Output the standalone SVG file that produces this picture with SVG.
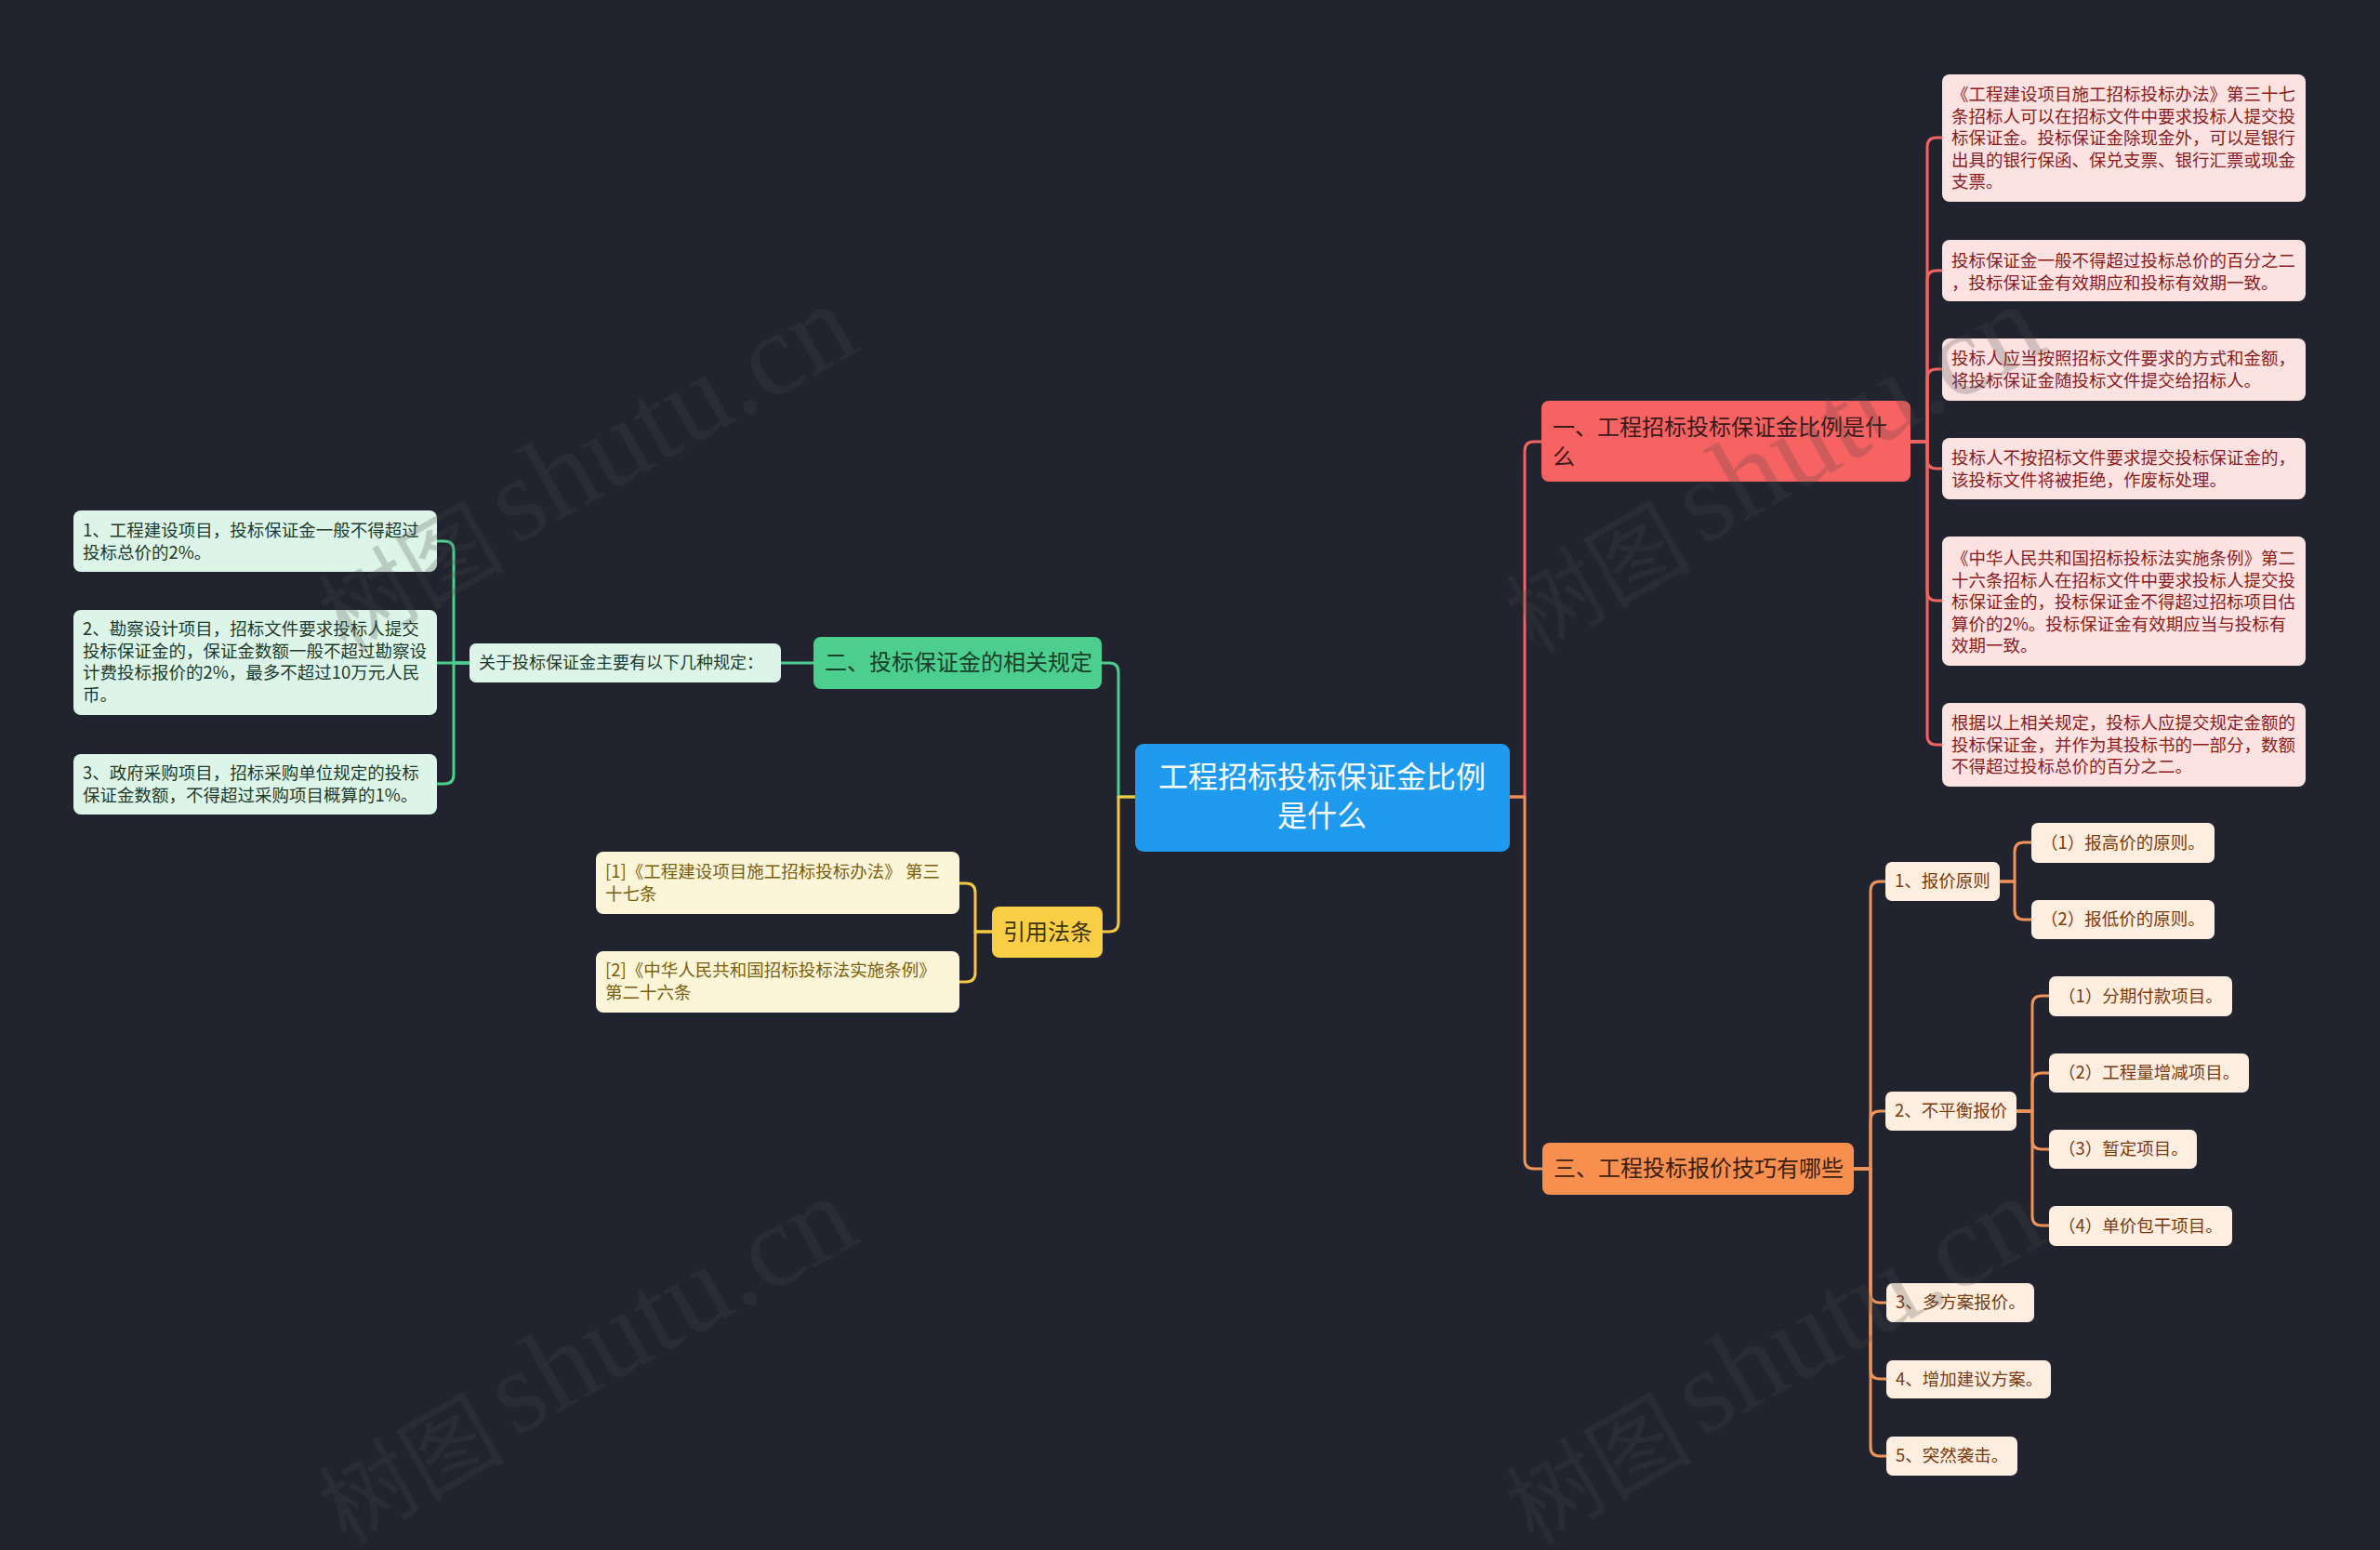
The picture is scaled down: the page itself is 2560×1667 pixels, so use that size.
<svg xmlns="http://www.w3.org/2000/svg" width="2560" height="1667" viewBox="0 0 2560 1667">
<style>
text{font-family:"Noto Sans CJK SC","Noto Sans",sans-serif;}
.c{fill:none;stroke-width:3;stroke-linecap:round;stroke-linejoin:round}
.red{stroke:#f26462}.grn{stroke:#4ccf8e}.yel{stroke:#f5c842}.org{stroke:#f0935a}
.sm{font-size:18.5px}
.md{font-size:24px}
.pk rect{fill:#fde2e2}.pk text{fill:#8a1c1c}
.gl rect{fill:#ddf5e8}.gl text{fill:#1d3b2c}
.yl rect{fill:#fdf5d8}.yl text{fill:#7a5f0f}
.ol rect{fill:#feeedf}.ol text{fill:#7a3a10}
.wm{fill:#4a4a4a;opacity:0.24}
</style>
<rect width="2560" height="1667" fill="#21242f"/>
<g id="connectors">
<path class="c red" d="M1624 857H1640V485Q1640 475 1650 475H1658"/>
<path class="c org" d="M1624 857H1640V1247Q1640 1257 1650 1257H1659"/>
<path class="c grn" d="M1221 857H1203V723Q1203 713 1193 713H1185"/>
<path class="c yel" d="M1221 857H1203V992Q1203 1002 1193 1002H1186"/>
<path class="c red" d="M2055 475H2073V158Q2073 148 2083 148H2089"/>
<path class="c red" d="M2055 475H2073V301Q2073 291 2083 291H2089"/>
<path class="c red" d="M2055 475H2073V407Q2073 397 2083 397H2089"/>
<path class="c red" d="M2055 475H2073V494Q2073 504 2083 504H2089"/>
<path class="c red" d="M2055 475H2073V636Q2073 646 2083 646H2089"/>
<path class="c red" d="M2055 475H2073V791Q2073 801 2083 801H2089"/>
<path class="c grn" d="M875 713H840"/>
<path class="c grn" d="M505 713H488V592Q488 582 478 582H470"/>
<path class="c grn" d="M505 713H470"/>
<path class="c grn" d="M505 713H488V833Q488 843 478 843H470"/>
<path class="c yel" d="M1067 1002H1049V960Q1049 950 1039 950H1032"/>
<path class="c yel" d="M1067 1002H1049V1046Q1049 1056 1039 1056H1032"/>
<path class="c org" d="M1994 1257H2012V958Q2012 948 2022 948H2028"/>
<path class="c org" d="M1994 1257H2012V1205Q2012 1195 2022 1195H2028"/>
<path class="c org" d="M1994 1257H2012V1391Q2012 1401 2022 1401H2029"/>
<path class="c org" d="M1994 1257H2012V1473Q2012 1483 2022 1483H2029"/>
<path class="c org" d="M1994 1257H2012V1556Q2012 1566 2022 1566H2029"/>
<path class="c org" d="M2151 948H2167V916Q2167 906 2177 906H2185"/>
<path class="c org" d="M2151 948H2167V979Q2167 989 2177 989H2185"/>
<path class="c org" d="M2169 1195H2186V1081Q2186 1071 2196 1071H2204"/>
<path class="c org" d="M2169 1195H2186V1164Q2186 1154 2196 1154H2204"/>
<path class="c org" d="M2169 1195H2186V1226Q2186 1236 2196 1236H2204"/>
<path class="c org" d="M2169 1195H2186V1308Q2186 1318 2196 1318H2204"/>
</g>
<g id="root">
<rect x="1221" y="800" width="403" height="116" rx="9" fill="#1e9bef"/>
<text x="1422" y="847" font-size="32" fill="#ffffff" text-anchor="middle">工程招标投标保证金比例</text>
<text x="1422" y="889" font-size="32" fill="#ffffff" text-anchor="middle">是什么</text>
</g>
<g id="n1">
<rect x="1658" y="431" width="397" height="87" rx="8" fill="#f76262"/>
<text class="md" x="1670" y="468" fill="#3a1a1a">一、工程招标投标保证金比例是什</text>
<text class="md" x="1670" y="500" fill="#3a1a1a">么</text>
</g>
<g id="n1a" class="pk">
<rect x="2089" y="80" width="391" height="137" rx="8"/>
<text class="sm" x="2099" y="108">《工程建设项目施工招标投标办法》第三十七</text>
<text class="sm" x="2099" y="131.5">条招标人可以在招标文件中要求投标人提交投</text>
<text class="sm" x="2099" y="155">标保证金。投标保证金除现金外，可以是银行</text>
<text class="sm" x="2099" y="178.5">出具的银行保函、保兑支票、银行汇票或现金</text>
<text class="sm" x="2099" y="202">支票。</text>
</g>
<g id="n1b" class="pk">
<rect x="2089" y="258" width="391" height="66" rx="8"/>
<text class="sm" x="2099" y="287">投标保证金一般不得超过投标总价的百分之二</text>
<text class="sm" x="2099" y="310.5">，投标保证金有效期应和投标有效期一致。</text>
</g>
<g id="n1c" class="pk">
<rect x="2089" y="364" width="391" height="67" rx="8"/>
<text class="sm" x="2099" y="392">投标人应当按照招标文件要求的方式和金额，</text>
<text class="sm" x="2099" y="415.5">将投标保证金随投标文件提交给招标人。</text>
</g>
<g id="n1d" class="pk">
<rect x="2089" y="471" width="391" height="66" rx="8"/>
<text class="sm" x="2099" y="499">投标人不按招标文件要求提交投标保证金的，</text>
<text class="sm" x="2099" y="522.5">该投标文件将被拒绝，作废标处理。</text>
</g>
<g id="n1e" class="pk">
<rect x="2089" y="577" width="391" height="139" rx="8"/>
<text class="sm" x="2099" y="607">《中华人民共和国招标投标法实施条例》第二</text>
<text class="sm" x="2099" y="630.5">十六条招标人在招标文件中要求投标人提交投</text>
<text class="sm" x="2099" y="654">标保证金的，投标保证金不得超过招标项目估</text>
<text class="sm" x="2099" y="677.5">算价的2%。投标保证金有效期应当与投标有</text>
<text class="sm" x="2099" y="701">效期一致。</text>
</g>
<g id="n1f" class="pk">
<rect x="2089" y="756" width="391" height="90" rx="8"/>
<text class="sm" x="2099" y="784">根据以上相关规定，投标人应提交规定金额的</text>
<text class="sm" x="2099" y="807.5">投标保证金，并作为其投标书的一部分，数额</text>
<text class="sm" x="2099" y="831">不得超过投标总价的百分之二。</text>
</g>
<g id="n2">
<rect x="875" y="685" width="310" height="56" rx="8" fill="#4ccf8e"/>
<text class="md" x="887" y="721" fill="#18402a">二、投标保证金的相关规定</text>
</g>
<g id="n2a" class="gl">
<rect x="505" y="692" width="335" height="42" rx="7"/>
<text x="515" y="719" font-size="18">关于投标保证金主要有以下几种规定：</text>
</g>
<g id="n2a1" class="gl">
<rect x="79" y="549" width="391" height="66" rx="8"/>
<text class="sm" x="89" y="577">1、工程建设项目，投标保证金一般不得超过</text>
<text class="sm" x="89" y="600.5">投标总价的2%。</text>
</g>
<g id="n2a2" class="gl">
<rect x="79" y="656" width="391" height="113" rx="8"/>
<text class="sm" x="89" y="683">2、勘察设计项目，招标文件要求投标人提交</text>
<text class="sm" x="89" y="706.5">投标保证金的，保证金数额一般不超过勘察设</text>
<text class="sm" x="89" y="730">计费投标报价的2%，最多不超过10万元人民</text>
<text class="sm" x="89" y="753.5">币。</text>
</g>
<g id="n2a3" class="gl">
<rect x="79" y="811" width="391" height="65" rx="8"/>
<text class="sm" x="89" y="838">3、政府采购项目，招标采购单位规定的投标</text>
<text class="sm" x="89" y="861.5">保证金数额，不得超过采购项目概算的1%。</text>
</g>
<g id="n3">
<rect x="1067" y="975" width="119" height="55" rx="8" fill="#f9cf45"/>
<text class="md" x="1079" y="1011" fill="#3d3410">引用法条</text>
</g>
<g id="n3a" class="yl">
<rect x="641" y="916" width="391" height="67" rx="8"/>
<text class="sm" x="651" y="944">[1]《工程建设项目施工招标投标办法》 第三</text>
<text class="sm" x="651" y="967.5">十七条</text>
</g>
<g id="n3b" class="yl">
<rect x="641" y="1023" width="391" height="66" rx="8"/>
<text class="sm" x="651" y="1050">[2]《中华人民共和国招标投标法实施条例》</text>
<text class="sm" x="651" y="1073.5">第二十六条</text>
</g>
<g id="n4">
<rect x="1659" y="1229" width="335" height="56" rx="8" fill="#f7904f"/>
<text class="md" x="1671" y="1265" fill="#3a2010">三、工程投标报价技巧有哪些</text>
</g>
<g id="n4a" class="ol">
<rect x="2028" y="927" width="123" height="42" rx="7"/>
<text class="sm" x="2038" y="954">1、报价原则</text>
</g>
<g id="n4a1" class="ol">
<rect x="2185" y="885" width="197" height="43" rx="7"/>
<text class="sm" x="2195" y="913">（1）报高价的原则。</text>
</g>
<g id="n4a2" class="ol">
<rect x="2185" y="968" width="197" height="42" rx="7"/>
<text class="sm" x="2195" y="995">（2）报低价的原则。</text>
</g>
<g id="n4b" class="ol">
<rect x="2028" y="1174" width="141" height="42" rx="7"/>
<text class="sm" x="2038" y="1201">2、不平衡报价</text>
</g>
<g id="n4b1" class="ol">
<rect x="2204" y="1050" width="197" height="43" rx="7"/>
<text class="sm" x="2214" y="1078">（1）分期付款项目。</text>
</g>
<g id="n4b2" class="ol">
<rect x="2204" y="1133" width="215" height="42" rx="7"/>
<text class="sm" x="2214" y="1160">（2）工程量增减项目。</text>
</g>
<g id="n4b3" class="ol">
<rect x="2204" y="1215" width="159" height="42" rx="7"/>
<text class="sm" x="2214" y="1242">（3）暂定项目。</text>
</g>
<g id="n4b4" class="ol">
<rect x="2204" y="1297" width="197" height="43" rx="7"/>
<text class="sm" x="2214" y="1325">（4）单价包干项目。</text>
</g>
<g id="n4c" class="ol">
<rect x="2029" y="1380" width="159" height="42" rx="7"/>
<text class="sm" x="2039" y="1407">3、多方案报价。</text>
</g>
<g id="n4d" class="ol">
<rect x="2029" y="1463" width="177" height="41" rx="7"/>
<text class="sm" x="2039" y="1490">4、增加建议方案。</text>
</g>
<g id="n4e" class="ol">
<rect x="2029" y="1545" width="141" height="42" rx="7"/>
<text class="sm" x="2039" y="1572">5、突然袭击。</text>
</g>
<g id="watermark" class="wm">
<text transform="translate(372,703) rotate(-30)" font-size="100">树图</text>
<text transform="translate(554,587) rotate(-29.5)" font-size="128" style="font-family:'Liberation Serif',serif">shutu.cn</text>
<text transform="translate(1649,703) rotate(-30)" font-size="100">树图</text>
<text transform="translate(1831,587) rotate(-29.5)" font-size="128" style="font-family:'Liberation Serif',serif">shutu.cn</text>
<text transform="translate(372,1662) rotate(-30)" font-size="100">树图</text>
<text transform="translate(554,1546) rotate(-29.5)" font-size="128" style="font-family:'Liberation Serif',serif">shutu.cn</text>
<text transform="translate(1649,1662) rotate(-30)" font-size="100">树图</text>
<text transform="translate(1831,1546) rotate(-29.5)" font-size="128" style="font-family:'Liberation Serif',serif">shutu.cn</text>
</g>
</svg>
